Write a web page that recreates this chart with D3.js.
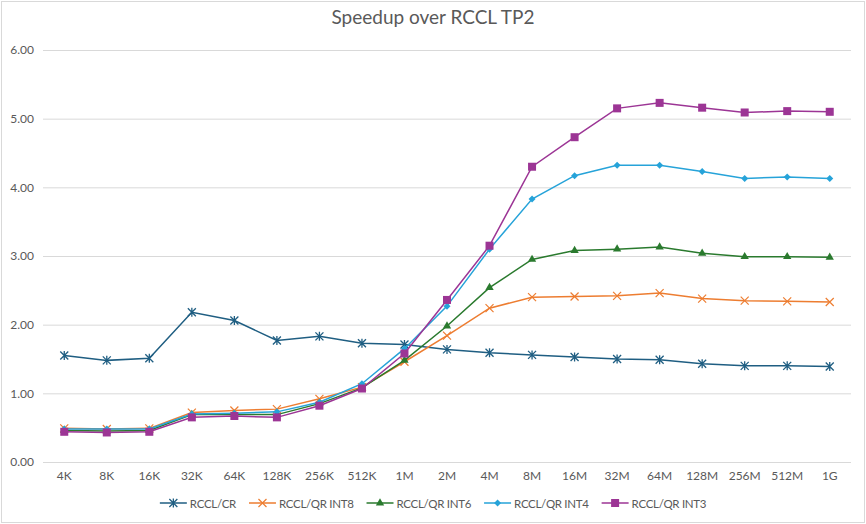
<!DOCTYPE html>
<html>
<head>
<meta charset="utf-8">
<script src="https://cdn.jsdelivr.net/npm/d3@7"></script>
<style>
  body { margin: 0; background: #fff; }
  svg text { font-family: "Source Sans Pro", Lato, "Noto Sans", sans-serif; fill: #595959; }
</style>
</head>
<body>
<div id="chart"></div>
<script>
// message sizes on the x axis
const sizes = ["4K", "8K", "16K", "32K", "64K", "128K", "256K", "512K", "1M", "2M",
  "4M", "8M", "16M", "32M", "64M", "128M", "256M", "512M", "1G"];

const yTicks = [0, 1, 2, 3, 4, 5, 6];

const crVals   = [1.55, 1.48, 1.51, 2.18, 2.06, 1.77, 1.83, 1.73, 1.71, 1.64, 1.59, 1.56, 1.53, 1.50, 1.49, 1.43, 1.40, 1.40, 1.39];
const int8Vals = [0.49, 0.48, 0.49, 0.72, 0.75, 0.77, 0.92, 1.09, 1.46, 1.84, 2.24, 2.40, 2.41, 2.42, 2.46, 2.38, 2.35, 2.34, 2.33];
const int6Vals = [0.46, 0.45, 0.46, 0.69, 0.69, 0.69, 0.85, 1.08, 1.48, 1.98, 2.54, 2.95, 3.08, 3.10, 3.13, 3.04, 2.99, 2.99, 2.98];
const int4Vals = [0.48, 0.48, 0.48, 0.70, 0.71, 0.73, 0.87, 1.14, 1.65, 2.27, 3.10, 3.83, 4.17, 4.32, 4.32, 4.23, 4.13, 4.15, 4.13];
const int3Vals = [0.44, 0.43, 0.44, 0.65, 0.67, 0.65, 0.82, 1.07, 1.58, 2.36, 3.15, 4.30, 4.73, 5.15, 5.23, 5.16, 5.09, 5.11, 5.10];

const seriesNames = ["RCCL/CR", "RCCL/QR INT8", "RCCL/QR INT6", "RCCL/QR INT4", "RCCL/QR INT3"];
const seriesColors = ["#1f5e82", "#ed7d31", "#2a7a2e", "#26a3d9", "#9c3595"];
const seriesMarkers = ["star", "cross", "triangle", "diamond", "square"];

const series = seriesNames.map((name, i) => ({
  name: name,
  color: seriesColors[i],
  marker: seriesMarkers[i],
  values: [crVals, int8Vals, int6Vals, int4Vals, int3Vals][i]
}));

const width = 866, height = 524;
const margin = { top: 50, right: 15, bottom: 62, left: 43 };

const svg = d3.select("#chart").append("svg")
  .attr("width", width)
  .attr("height", height);

svg.append("rect")
  .attr("x", 1.5).attr("y", 1.5)
  .attr("width", width - 3).attr("height", height - 3)
  .attr("fill", "#fff")
  .attr("stroke", "#d9d9d9");

svg.append("text")
  .attr("x", width / 2)
  .attr("y", 24)
  .attr("text-anchor", "middle")
  .style("font-size", "19px")
  .text("Speedup over RCCL TP2");

const x = d3.scaleBand()
  .domain(sizes)
  .range([margin.left, width - margin.right]);

const y = d3.scaleLinear()
  .domain([0, 6])
  .range([height - margin.bottom, margin.top]);

// gridlines + y labels
const yAxis = svg.append("g")
  .attr("transform", `translate(${margin.left},0)`)
  .call(d3.axisLeft(y).tickValues(yTicks).tickFormat(d3.format(".2f"))
    .tickSize(-(width - margin.left - margin.right)).tickPadding(9));
yAxis.select(".domain").remove();
yAxis.selectAll(".tick line").attr("stroke", "#d9d9d9");
yAxis.selectAll(".tick text").style("font-size", "12px").attr("fill", "#595959");

const xAxis = svg.append("g")
  .attr("transform", `translate(0,${height - margin.bottom})`)
  .call(d3.axisBottom(x).tickSize(0).tickPadding(9));
xAxis.select(".domain").remove();
xAxis.selectAll(".tick text").style("font-size", "12px").attr("fill", "#595959");

const cx = d => x(d) + x.bandwidth() / 2;

function drawMarker(g, type, color) {
  if (type === "star") {
    g.append("path").attr("d", "M-4,-4L4,4M-4,4L4,-4M0,-4.5L0,4.5")
      .attr("stroke", color).attr("stroke-width", 1.3).attr("fill", "none");
  } else if (type === "cross") {
    g.append("path").attr("d", "M-4,-4L4,4M-4,4L4,-4")
      .attr("stroke", color).attr("stroke-width", 1.2).attr("fill", "none");
  } else if (type === "triangle") {
    g.append("path").attr("d", d3.symbol(d3.symbolTriangle, 30)())
      .attr("fill", color);
  } else if (type === "diamond") {
    g.append("path").attr("d", "M0,-3.5L3.5,0L0,3.5L-3.5,0Z")
      .attr("fill", color);
  } else if (type === "square") {
    g.append("rect").attr("x", -4).attr("y", -4).attr("width", 8).attr("height", 8)
      .attr("fill", color);
  }
}

const line = d3.line()
  .x((d, i) => cx(sizes[i]))
  .y(d => y(d));

series.forEach(s => {
  const g = svg.append("g");
  g.append("path")
    .datum(s.values)
    .attr("d", line)
    .attr("fill", "none")
    .attr("stroke", s.color)
    .attr("stroke-width", 1.5);
  s.values.forEach((v, i) => {
    const m = g.append("g").attr("transform", `translate(${cx(sizes[i])},${y(v)})`);
    drawMarker(m, s.marker, s.color);
  });
});

// legend
const legend = svg.append("g");
let lx = 0;
const gap = 13;
series.forEach(s => {
  const item = legend.append("g").attr("transform", `translate(${lx},0)`);
  item.append("line").attr("x1", 0).attr("x2", 27).attr("y1", 0).attr("y2", 0)
    .attr("stroke", s.color).attr("stroke-width", 1.5);
  drawMarker(item.append("g").attr("transform", "translate(13.5,0)"), s.marker, s.color);
  const t = item.append("text").attr("x", 30).attr("y", 4.5)
    .style("font-size", "11.5px")
    .style("letter-spacing", "-0.3px")
    .text(s.name);
  lx += 30 + t.node().getComputedTextLength() + gap;
});
lx -= gap;
legend.attr("transform", `translate(${(width - lx) / 2},503)`);
</script>
</body>
</html>
